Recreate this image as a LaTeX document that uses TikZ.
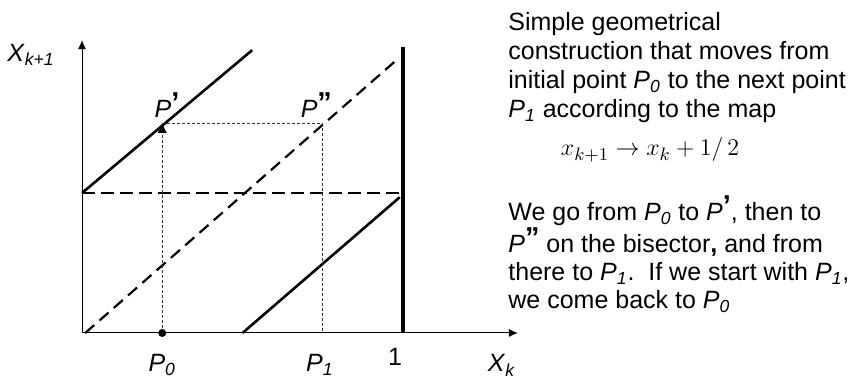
\documentclass[tikz,border=0pt]{standalone}
\usepackage{fontspec}
\setmainfont{Liberation Sans}
\usetikzlibrary{arrows.meta}

% point labels in the sans text
\newcommand{\Pnum}[1]{\textit{P}\textsubscript{\textit{#1}}}
\newcommand{\Pone}{\textit{P}\raisebox{0.4ex}{\bfseries\Large ’}}
\newcommand{\Ptwo}{\textit{P}\raisebox{0.4ex}{\bfseries\Large ”}}

\tikzset{
  axis/.style={line width=0.5pt, -{Latex[length=4.5pt,width=4pt]}},
  mapline/.style={line width=1.3pt},
  wall/.style={line width=1.6pt},
  bisector/.style={line width=1.1pt, dash pattern=on 6pt off 3.5pt},
  halfline/.style={line width=1.3pt, dash pattern=on 6.5pt off 3pt},
  guide/.style={line width=0.4pt, black!80, dash pattern=on 1.5pt off 1pt},
  lbl/.style={font=\fontsize{12.5}{14}\selectfont},
  para/.style={font=\fontsize{12.5}{14.5}\selectfont, align=left, anchor=north west, inner sep=0pt}
}

\begin{document}
\begin{tikzpicture}[x=0.5pt, y=0.5pt]
    \useasboundingbox (0,0) rectangle (853,379);

    % the map inside the unit square
    \begin{scope}[shift={(82,46)}, x=160.5pt, y=140pt]
        \coordinate (O) at (0,0);
        \coordinate (xend) at (1.358,0);
        \coordinate (yend) at (0,1.046);
        \coordinate (one) at (1,0);
        \coordinate (onetop) at (1,1.02);
        \coordinate (halfL) at (0,0.5);
        \coordinate (halfR) at (1,0.5);
        \coordinate (upEnd) at (0.53,1.01);
        \coordinate (lowStart) at (0.5,0);
        \coordinate (lowEnd) at (0.99,0.485);
        \coordinate (bisS) at (0.01,0);
        \coordinate (bisE) at (0.985,0.98);
        \coordinate (p0) at (0.25,0);
        \coordinate (pp) at (0.25,0.75);
        \coordinate (ppp) at (0.75,0.75);
        \coordinate (p1) at (0.75,0);

        % axes
        \draw[axis] (O) -- (xend);
        \draw[axis] (O) -- (yend);

        % x = 1 wall and the two branches of the map
        \draw[wall] (one) -- (onetop);
        \draw[mapline] (halfL) -- (upEnd);
        \draw[mapline] (lowStart) -- (lowEnd);

        % bisector and level 1/2
        \draw[bisector] (bisS) -- (bisE);
        \draw[halfline] (halfL) -- (halfR);

        % construction P0 -> P' -> P'' -> P1
        \draw[guide, -{Latex[length=5pt,width=4.6pt,black,line width=0pt]}] (p0) -- (pp);
        \draw[guide] (pp) -- (ppp);
        \draw[guide] (ppp) -- (p1);
        \fill (p0) circle (2pt);

        % labels
        \node[lbl] (lblY) at (-0.159,0.993) {\textit{X}\textsubscript{\textit{k+1}}};
        \node[lbl] (lblX) at (1.308,-0.115) {\textit{X}\textsubscript{\textit{k}}};
        \node[lbl] (lblP0) at (0.25,-0.114) {\Pnum{0}};
        \node[lbl] (lblP1) at (0.741,-0.114) {\Pnum{1}};
        \node[lbl] (lblOne) at (0.975,-0.086) {1};
        \node[lbl] (lblPp) at (0.265,0.815) {\Pone};
        \node[lbl] (lblPpp) at (0.73,0.815) {\Ptwo};
    \end{scope}

    % explanation on the right
    \node[para] (textA) at (508,367) {Simple geometrical\\
        construction that moves from\\
        initial point \Pnum{0} to the next point\\
        \Pnum{1} according to the map};
    \node[font=\fontsize{12.5}{14}\selectfont] (formula) at (650,229) {$x_{k+1} \rightarrow x_k +1/\,2$};
    \node[para, font=\fontsize{12.5}{14}\selectfont] (textB) at (508,184) {We go from \Pnum{0} to \Pone, then to\\
        \Ptwo\ on the bisector{\bfseries ,} and from\\
        there to \Pnum{1}.\ \ If we start with \Pnum{1},\\
        we come back to \Pnum{0}};
\end{tikzpicture}
\end{document}
